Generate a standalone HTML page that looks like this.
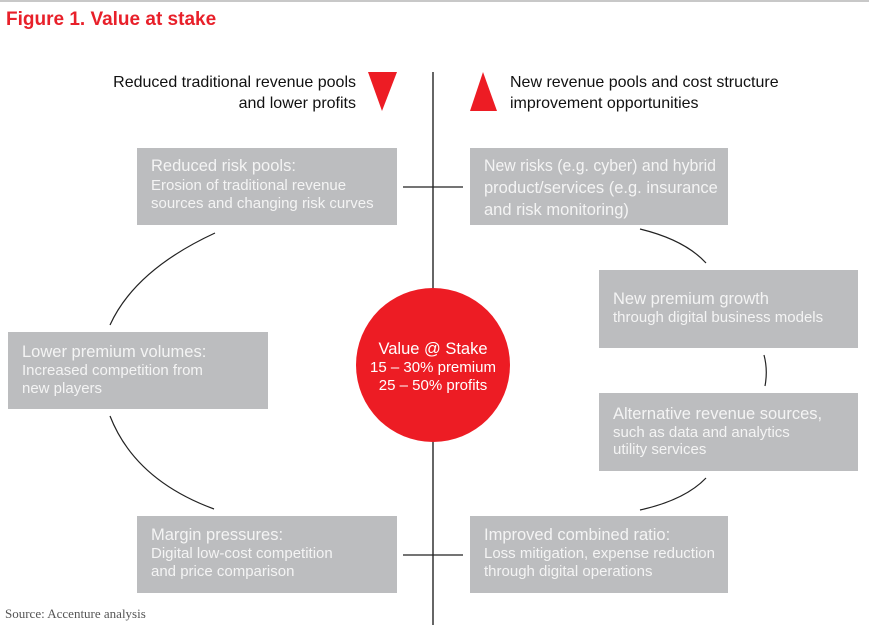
<!DOCTYPE html>
<html><head><meta charset="utf-8"><style>
body{margin:0;background:#fff;}
svg{display:block;font-family:"Liberation Sans",sans-serif;}
.t{fill:#f4f4f4;font-size:16.5px;}
.s{fill:#f4f4f4;font-size:15px;}
.b{fill:#bcbdbf;}
.h{fill:#111;font-size:16px;}
</style></head><body>
<svg width="869" height="625" viewBox="0 0 869 625">
<rect x="0" y="0" width="869" height="2" fill="#c8c8c8"/>
<text x="6" y="25" fill="#e8202a" font-size="19" font-weight="bold">Figure 1. Value at stake</text>
<line x1="433" y1="72" x2="433" y2="625" stroke="#000" stroke-width="1.2"/>
<text class="h" x="356" y="87" text-anchor="end">Reduced traditional revenue pools</text>
<text class="h" x="356" y="108" text-anchor="end">and lower profits</text>
<polygon points="368,72 397,72 382,111" fill="#ed1c24"/>
<polygon points="470,111 497,111 483,72" fill="#ed1c24"/>
<text class="h" x="510" y="87">New revenue pools and cost structure</text>
<text class="h" x="510" y="108">improvement opportunities</text>
<g fill="none" stroke="#222" stroke-width="1.2">
<line x1="403" y1="187" x2="463" y2="187"/>
<line x1="403" y1="555" x2="463" y2="555"/>
<path d="M215,233 Q135,270 110,325"/>
<path d="M110,416 Q135,480 214,509"/>
<path d="M640,229 Q685,240 706,263"/>
<path d="M764,355 Q768,370 765,386"/>
<path d="M706,478 Q685,500 640,510"/>
</g>
<rect class="b" x="137" y="148" width="260" height="77"/>
<text class="t" x="151" y="171">Reduced risk pools:</text>
<text class="s" x="151" y="190">Erosion of traditional revenue</text>
<text class="s" x="151" y="208">sources and changing risk curves</text>
<rect class="b" x="470" y="148" width="258" height="77"/>
<text class="t" x="484" y="171" textLength="232" lengthAdjust="spacingAndGlyphs">New risks (e.g. cyber) and hybrid</text>
<text class="t" x="484" y="193">product/services (e.g. insurance</text>
<text class="t" x="484" y="215">and risk monitoring)</text>
<rect class="b" x="599" y="270" width="259" height="78"/>
<text class="t" x="613" y="304">New premium growth</text>
<text class="s" x="613" y="322">through digital business models</text>
<rect class="b" x="599" y="393" width="259" height="78"/>
<text class="t" x="613" y="419">Alternative revenue sources,</text>
<text class="s" x="613" y="437">such as data and analytics</text>
<text class="s" x="613" y="454">utility services</text>
<rect class="b" x="8" y="332" width="260" height="77"/>
<text class="t" x="22" y="357">Lower premium volumes:</text>
<text class="s" x="22" y="375">Increased competition from</text>
<text class="s" x="22" y="393">new players</text>
<rect class="b" x="137" y="516" width="260" height="77"/>
<text class="t" x="151" y="540">Margin pressures:</text>
<text class="s" x="151" y="558">Digital low-cost competition</text>
<text class="s" x="151" y="576">and price comparison</text>
<rect class="b" x="470" y="516" width="258" height="77"/>
<text class="t" x="484" y="540">Improved combined ratio:</text>
<text class="s" x="484" y="558">Loss mitigation, expense reduction</text>
<text class="s" x="484" y="576">through digital operations</text>
<circle cx="433" cy="365" r="77" fill="#ed1c24"/>
<text x="433" y="354" fill="#fff" font-size="16.5" text-anchor="middle">Value @ Stake</text>
<text x="433" y="372" fill="#fff" font-size="15" text-anchor="middle">15 – 30% premium</text>
<text x="433" y="390" fill="#fff" font-size="15" text-anchor="middle">25 – 50% profits</text>
<text x="5" y="618" fill="#555" font-size="13" font-family="Liberation Serif,serif">Source: Accenture analysis</text>
</svg>
</body></html>
